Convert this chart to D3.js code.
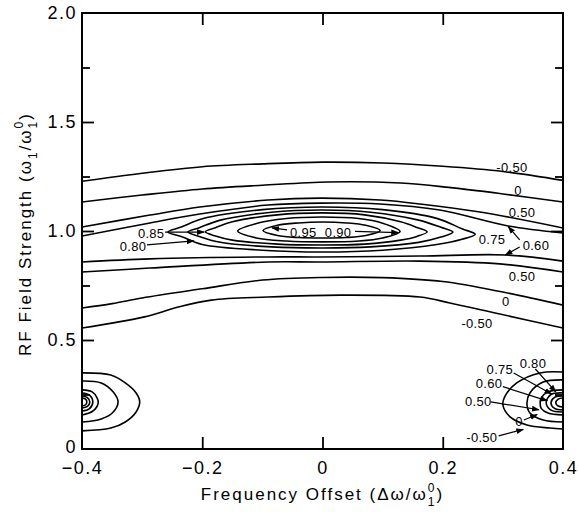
<!DOCTYPE html>
<html>
<head>
<meta charset="utf-8">
<script src="https://cdn.jsdelivr.net/npm/d3@7"></script>
<style>
body { margin: 0; background: #fff; }
text { font-family: "Liberation Sans", Arial, sans-serif; fill: #000; }
.tick text { font-size: 18px; letter-spacing: 1.5px; }
.clabel { font-size: 13px; letter-spacing: 0.3px; }
.title { font-size: 17px; letter-spacing: 2px; }
</style>
</head>
<body>
<script>
// axis ticks
const xTicks = [-0.4, -0.2, 0, 0.2, 0.4];
const xInnerTicks = [-0.2, 0, 0.2];
const yTicks = [0, 0.5, 1.0, 1.5, 2.0];
const yMinor = [0.25, 0.75, 1.25, 1.75];

// open contours that run across the whole plot (x, y)
const neg50Upper = [[-0.4,1.228],[-0.3,1.265],[-0.2,1.295],[-0.1,1.308],[0,1.316],[0.1,1.312],[0.2,1.297],[0.3,1.273],[0.4,1.232]];
const zeroUpper  = [[-0.4,1.133],[-0.3,1.165],[-0.2,1.193],[-0.1,1.21],[0.01,1.225],[0.13,1.22],[0.21,1.2],[0.3,1.17],[0.4,1.133]];
const p50Upper   = [[-0.4,1.018],[-0.287,1.073],[-0.204,1.11],[-0.091,1.142],[-0.004,1.151],[0.096,1.142],[0.162,1.124],[0.262,1.087],[0.4,1.014]];
const p60Upper   = [[-0.4,0.977],[-0.287,1.037],[-0.204,1.078],[-0.091,1.119],[-0.004,1.128],[0.096,1.124],[0.195,1.096],[0.309,1.023],[0.4,0.991]];
const p60Lower   = [[-0.4,0.858],[-0.287,0.872],[-0.091,0.881],[-0.004,0.881],[0.162,0.885],[0.304,0.89],[0.4,0.862]];
const p50Lower   = [[-0.4,0.812],[-0.287,0.83],[-0.091,0.858],[-0.004,0.858],[0.162,0.862],[0.295,0.849],[0.4,0.812]];
const zeroLower  = [[-0.4,0.647],[-0.35,0.667],[-0.3,0.693],[-0.2,0.735],[-0.1,0.775],[0,0.787],[0.1,0.786],[0.2,0.768],[0.3,0.72],[0.4,0.66]];
const neg50Lower = [[-0.4,0.555],[-0.296,0.606],[-0.24,0.651],[-0.185,0.683],[-0.091,0.697],[0.029,0.706],[0.162,0.697],[0.212,0.67],[0.295,0.619],[0.4,0.555]];

// closed contours round the maximum near (0, 1.0)
const lens95 = [[-0.099,1.002],[-0.075,1.026],[-0.04,1.037],[0,1.041],[0.04,1.037],[0.072,1.026],[0.096,1.002],[0.072,0.979],[0.04,0.97],[0,0.968],[-0.04,0.97],[-0.075,0.979]];
const lens90 = [[-0.141,1.0],[-0.11,1.034],[-0.06,1.057],[0,1.064],[0.06,1.057],[0.1,1.036],[0.129,0.998],[0.1,0.968],[0.06,0.954],[0,0.95],[-0.06,0.954],[-0.11,0.968]];
const lens85 = [[-0.195,0.996],[-0.178,1.015],[-0.15,1.042],[-0.075,1.074],[0,1.083],[0.07,1.074],[0.13,1.042],[0.157,1.016],[0.174,0.996],[0.157,0.975],[0.13,0.958],[0.07,0.94],[0,0.936],[-0.075,0.94],[-0.15,0.958],[-0.178,0.977]];
const lens80 = [[-0.224,0.995],[-0.205,1.015],[-0.17,1.05],[-0.085,1.086],[0,1.096],[0.08,1.086],[0.16,1.05],[0.197,1.017],[0.217,0.995],[0.197,0.972],[0.16,0.948],[0.08,0.927],[0,0.922],[-0.085,0.927],[-0.17,0.948],[-0.205,0.975]];
const lens75 = [[-0.257,0.995],[-0.235,1.018],[-0.2,1.056],[-0.1,1.098],[0,1.11],[0.1,1.098],[0.19,1.058],[0.232,1.01],[0.254,0.985],[0.232,0.962],[0.19,0.938],[0.1,0.912],[0,0.904],[-0.1,0.912],[-0.2,0.938],[-0.235,0.975]];

// half contours at the lower corners
const leftNeg50 = [[-0.4,0.349],[-0.352,0.339],[-0.328,0.303],[-0.31,0.257],[-0.304,0.216],[-0.31,0.17],[-0.328,0.124],[-0.352,0.096],[-0.4,0.083]];
const leftZero  = [[-0.4,0.312],[-0.368,0.303],[-0.348,0.261],[-0.34,0.216],[-0.348,0.17],[-0.368,0.138],[-0.4,0.124]];
const leftP50   = [[-0.4,0.271],[-0.383,0.262],[-0.375,0.235],[-0.373,0.216],[-0.375,0.195],[-0.383,0.172],[-0.4,0.156]];
const leftP60   = [[-0.4,0.257],[-0.388,0.248],[-0.382,0.216],[-0.388,0.184],[-0.4,0.174]];
const leftP75   = [[-0.4,0.243],[-0.391,0.236],[-0.387,0.216],[-0.391,0.196],[-0.4,0.188]];
const leftP80   = [[-0.4,0.234],[-0.394,0.229],[-0.392,0.216],[-0.394,0.203],[-0.4,0.197]];
const rightNeg50 = [[0.4,0.353],[0.362,0.349],[0.323,0.303],[0.303,0.239],[0.3,0.202],[0.312,0.147],[0.34,0.11],[0.378,0.096],[0.4,0.092]];
const rightZero  = [[0.4,0.317],[0.367,0.307],[0.345,0.257],[0.34,0.211],[0.345,0.165],[0.367,0.133],[0.4,0.124]];
const rightP50   = [[0.4,0.271],[0.375,0.262],[0.364,0.235],[0.362,0.211],[0.364,0.185],[0.375,0.165],[0.4,0.156]];
const rightP60   = [[0.4,0.257],[0.38,0.25],[0.372,0.213],[0.38,0.178],[0.4,0.17]];
const rightP75   = [[0.4,0.243],[0.386,0.237],[0.38,0.211],[0.386,0.186],[0.4,0.179]];
const rightP80   = [[0.4,0.234],[0.392,0.229],[0.388,0.211],[0.392,0.197],[0.4,0.193]];

// contour labels
const labelText = ['-0.50','0','0.50','0.75','0.60','0.50','0','-0.50','0.95','0.90','0.85','0.80','0.75','0.80','0.60','0.50','0','-0.50'];
const labelX    = [0.315,0.325,0.332,0.282,0.355,0.332,0.305,0.257,-0.032,0.026,-0.285,-0.315,0.295,0.35,0.277,0.259,0.327,0.265];
const labelY    = [1.294,1.188,1.087,0.963,0.936,0.794,0.679,0.578,0.995,0.995,0.991,0.931,0.367,0.394,0.303,0.22,0.128,0.055];

// leader arrows: [x0, y0, x1, y1]
const leaders = [
  [-0.059,1.005,-0.084,1.014], [0.054,0.998,0.126,0.993],
  [-0.262,0.995,-0.197,0.995], [-0.292,0.936,-0.214,0.955],
  [0.328,0.959,0.309,1.02], [0.328,0.927,0.304,0.89],
  [0.318,0.349,0.381,0.252], [0.354,0.367,0.388,0.262],
  [0.3,0.286,0.374,0.221], [0.28,0.216,0.36,0.18],
  [0.335,0.133,0.357,0.158], [0.293,0.06,0.334,0.09]
];

const width = 579, height = 512;
const margin = {left: 82, right: 16, top: 13, bottom: 63};

const svg = d3.select('body').append('svg')
  .attr('width', width)
  .attr('height', height);

const x = d3.scaleLinear().domain([-0.4, 0.4]).range([margin.left, width - margin.right]);
const y = d3.scaleLinear().domain([0, 2]).range([height - margin.bottom, margin.top]);

svg.append('defs').append('clipPath').attr('id', 'plot')
  .append('rect')
  .attr('x', x(-0.4)).attr('y', y(2))
  .attr('width', x(0.4) - x(-0.4)).attr('height', y(0) - y(2));

svg.select('defs').append('marker')
  .attr('id', 'arrow')
  .attr('viewBox', '0 -4 9 8')
  .attr('refX', 8).attr('refY', 0)
  .attr('markerUnits', 'userSpaceOnUse')
  .attr('markerWidth', 8).attr('markerHeight', 7)
  .attr('orient', 'auto')
  .append('path').attr('d', 'M0,-3.2L9,0L0,3.2Z').attr('fill', '#000');

// contours
const openLines = [neg50Upper, zeroUpper, p50Upper, p60Upper, p60Lower, p50Lower, zeroLower, neg50Lower,
  leftNeg50, leftZero, leftP50, leftP60, leftP75, leftP80,
  rightNeg50, rightZero, rightP50, rightP60, rightP75, rightP80];
const closedLines = [lens95, lens90, lens85, lens80, lens75];

const line = d3.line().x(d => x(d[0])).y(d => y(d[1])).curve(d3.curveCatmullRom.alpha(0.5));
const loop = d3.line().x(d => x(d[0])).y(d => y(d[1])).curve(d3.curveCatmullRomClosed.alpha(0.5));

const g = svg.append('g').attr('clip-path', 'url(#plot)');
g.selectAll('.open').data(openLines).enter().append('path')
  .attr('class', 'open')
  .attr('d', line)
  .attr('fill', 'none').attr('stroke', '#000').attr('stroke-width', 1.6);
g.selectAll('.closed').data(closedLines).enter().append('path')
  .attr('class', 'closed')
  .attr('d', loop)
  .attr('fill', 'none').attr('stroke', '#000').attr('stroke-width', 1.6);

// leaders
svg.selectAll('.leader').data(leaders).enter().append('line')
  .attr('class', 'leader')
  .attr('x1', d => x(d[0])).attr('y1', d => y(d[1]))
  .attr('x2', d => x(d[2])).attr('y2', d => y(d[3]))
  .attr('stroke', '#000').attr('stroke-width', 1.2)
  .attr('marker-end', 'url(#arrow)');

// labels
svg.selectAll('.clabel').data(labelText).enter().append('text')
  .attr('class', 'clabel')
  .attr('x', (d, i) => x(labelX[i]))
  .attr('y', (d, i) => y(labelY[i]))
  .attr('dy', '0.36em')
  .attr('text-anchor', 'middle')
  .text(d => d);

// axes
const fmt = d => d === 0 ? '0' : d3.format('.1f')(d);

const xAxis = svg.append('g')
  .attr('transform', `translate(0,${y(0)})`)
  .call(d3.axisBottom(x).tickValues(xTicks).tickSize(-12).tickSizeOuter(0).tickPadding(12).tickFormat(fmt));
xAxis.selectAll('.tick').filter(d => d === -0.4 || d === 0.4).select('line').remove();

const yAxis = svg.append('g')
  .attr('transform', `translate(${x(-0.4)},0)`)
  .call(d3.axisLeft(y).tickValues(yTicks).tickSize(-12).tickSizeOuter(0).tickPadding(5).tickFormat(fmt));
yAxis.selectAll('.tick').filter(d => d === 0 || d === 2).select('line').remove();
yAxis.selectAll('.tick').filter(d => d === 0).select('text').attr('dy', '0.22em');

svg.append('g')
  .attr('transform', `translate(${x(-0.4)},0)`)
  .call(d3.axisLeft(y).tickValues(yMinor).tickSize(-8).tickSizeOuter(0).tickFormat(''));

svg.append('g')
  .attr('transform', `translate(${x(0.4)},0)`)
  .call(d3.axisRight(y).tickValues(yTicks.slice(1, -1)).tickSize(-12).tickSizeOuter(0).tickFormat(''));
svg.append('g')
  .attr('transform', `translate(${x(0.4)},0)`)
  .call(d3.axisRight(y).tickValues(yMinor).tickSize(-8).tickSizeOuter(0).tickFormat(''));

svg.append('g')
  .attr('transform', `translate(0,${y(2)})`)
  .call(d3.axisTop(x).tickValues(xInnerTicks).tickSize(-12).tickSizeOuter(0).tickFormat(''));

svg.selectAll('.domain').remove();
svg.selectAll('.tick line').attr('stroke', '#000').attr('stroke-width', 1.8);

svg.append('rect')
  .attr('x', x(-0.4)).attr('y', y(2))
  .attr('width', x(0.4) - x(-0.4)).attr('height', y(0) - y(2))
  .attr('fill', 'none').attr('stroke', '#000').attr('stroke-width', 2);

// axis titles
const xt = svg.append('text').attr('class', 'title')
  .attr('x', (x(-0.4) + x(0.4)) / 2).attr('y', 500)
  .attr('text-anchor', 'middle');
xt.append('tspan').text('Frequency Offset (Δω/ω');
xt.append('tspan').attr('font-size', 12).attr('dy', 6).text('1');
xt.append('tspan').attr('font-size', 12).attr('dx', -8.7).attr('dy', -14).text('0');
xt.append('tspan').attr('dy', 8).text(')');

const yt = svg.append('text').attr('class', 'title')
  .attr('transform', `translate(31,${(y(0) + y(2)) / 2 + 3}) rotate(-90)`)
  .attr('text-anchor', 'middle');
yt.append('tspan').text('RF Field Strength (ω');
yt.append('tspan').attr('font-size', 12).attr('dy', 6).text('1');
yt.append('tspan').attr('dy', -6).text('/ω');
yt.append('tspan').attr('font-size', 12).attr('dy', 6).text('1');
yt.append('tspan').attr('font-size', 12).attr('dx', -8.7).attr('dy', -14).text('0');
yt.append('tspan').attr('dy', 8).text(')');
</script>
</body>
</html>
